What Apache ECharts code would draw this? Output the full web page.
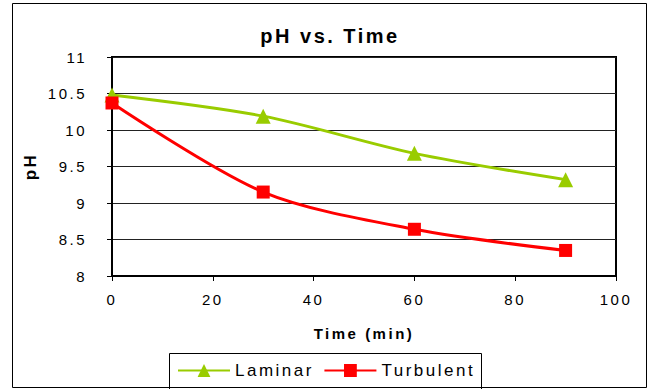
<!DOCTYPE html>
<html>
<head>
<meta charset="utf-8">
<script src="https://cdn.jsdelivr.net/npm/echarts@6/dist/echarts.min.js"></script>
<style>
html,body{margin:0;padding:0;background:#fff;}
#c{width:649px;height:389px;}
#c text{letter-spacing:2.5px;}
</style>
</head>
<body>
<div id="c"></div>
<script>
var times = [0, 30, 60, 90];
var laminar = [10.48, 10.19, 9.68, 9.32];
var turbulent = [10.37, 9.15, 8.64, 8.35];
var xTicks = [0, 20, 40, 60, 80, 100];
var yTicks = [8, 8.5, 9, 9.5, 10, 10.5, 11];

function pairs(xs, ys){ return xs.map(function(x,i){ return [x, ys[i]]; }); }

var FONT = '"Liberation Sans", Arial, sans-serif';
var chart = echarts.init(document.getElementById('c'), null, {renderer:'svg'});
chart.setOption({
  animation: false,
  backgroundColor: '#fff',
  title: {
    text: 'pH vs. Time',
    left: 325, textAlign: 'center', top: 21,
    textStyle: {fontFamily: FONT, fontSize: 20, fontWeight: 'bold', color: '#000'}
  },
  graphic: [
    {type:'rect', shape:{x:12.5, y:3.5, width:634, height:384}, style:{fill:'none', stroke:'#000', lineWidth:1}, silent:true, z:-1},
    {type:'rect', shape:{x:169.5, y:353.5, width:312, height:40}, style:{fill:'none', stroke:'#000', lineWidth:1}, silent:true, z:-1}
  ],
  legend: {
    left: 172, top: 357,
    itemWidth: 52, itemHeight: 16, itemGap: 27,
    textStyle: {fontFamily: FONT, fontSize: 17, color: '#000'},
    data: ['Laminar', 'Turbulent']
  },
  grid: {left: 112, right: 33, top: 57, bottom: 113, show: true, borderColor: '#000', borderWidth: 2, backgroundColor: 'transparent'},
  xAxis: {
    type: 'value', min: xTicks[0], max: xTicks[xTicks.length-1], interval: 20,
    name: 'Time (min)', nameLocation: 'middle', nameGap: 50,
    nameTextStyle: {fontFamily: FONT, fontSize: 15, fontWeight: 'bold', color: '#000'},
    axisLine: {show: true, lineStyle: {color: '#000', width: 2}},
    axisTick: {show: true, inside: false, length: 5, lineStyle: {color: '#000'}},
    axisLabel: {fontFamily: FONT, fontSize: 15, color: '#000', margin: 16},
    splitLine: {show: false}
  },
  yAxis: {
    type: 'value', min: yTicks[0], max: yTicks[yTicks.length-1], interval: 0.5,
    name: 'pH', nameLocation: 'middle', nameGap: 73, nameRotate: 90,
    nameTextStyle: {fontFamily: FONT, fontSize: 17, fontWeight: 'bold', color: '#000'},
    axisLine: {show: true, lineStyle: {color: '#000', width: 2}},
    axisTick: {show: true, inside: false, length: 5, lineStyle: {color: '#000'}},
    axisLabel: {fontFamily: FONT, fontSize: 15, color: '#000', margin: 25},
    splitLine: {show: true, lineStyle: {color: '#222', width: 1}}
  },
  series: [
    {
      name: 'Laminar', type: 'line', data: pairs(times, laminar),
      smooth: 0.3, symbol: 'triangle', symbolSize: 15,
      lineStyle: {color: '#99cc00', width: 3},
      itemStyle: {color: '#99cc00'}
    },
    {
      name: 'Turbulent', type: 'line', data: pairs(times, turbulent),
      smooth: 0.3, symbol: 'rect', symbolSize: 13,
      lineStyle: {color: '#ff0000', width: 3},
      itemStyle: {color: '#ff0000'}
    }
  ]
});
</script>
</body>
</html>
